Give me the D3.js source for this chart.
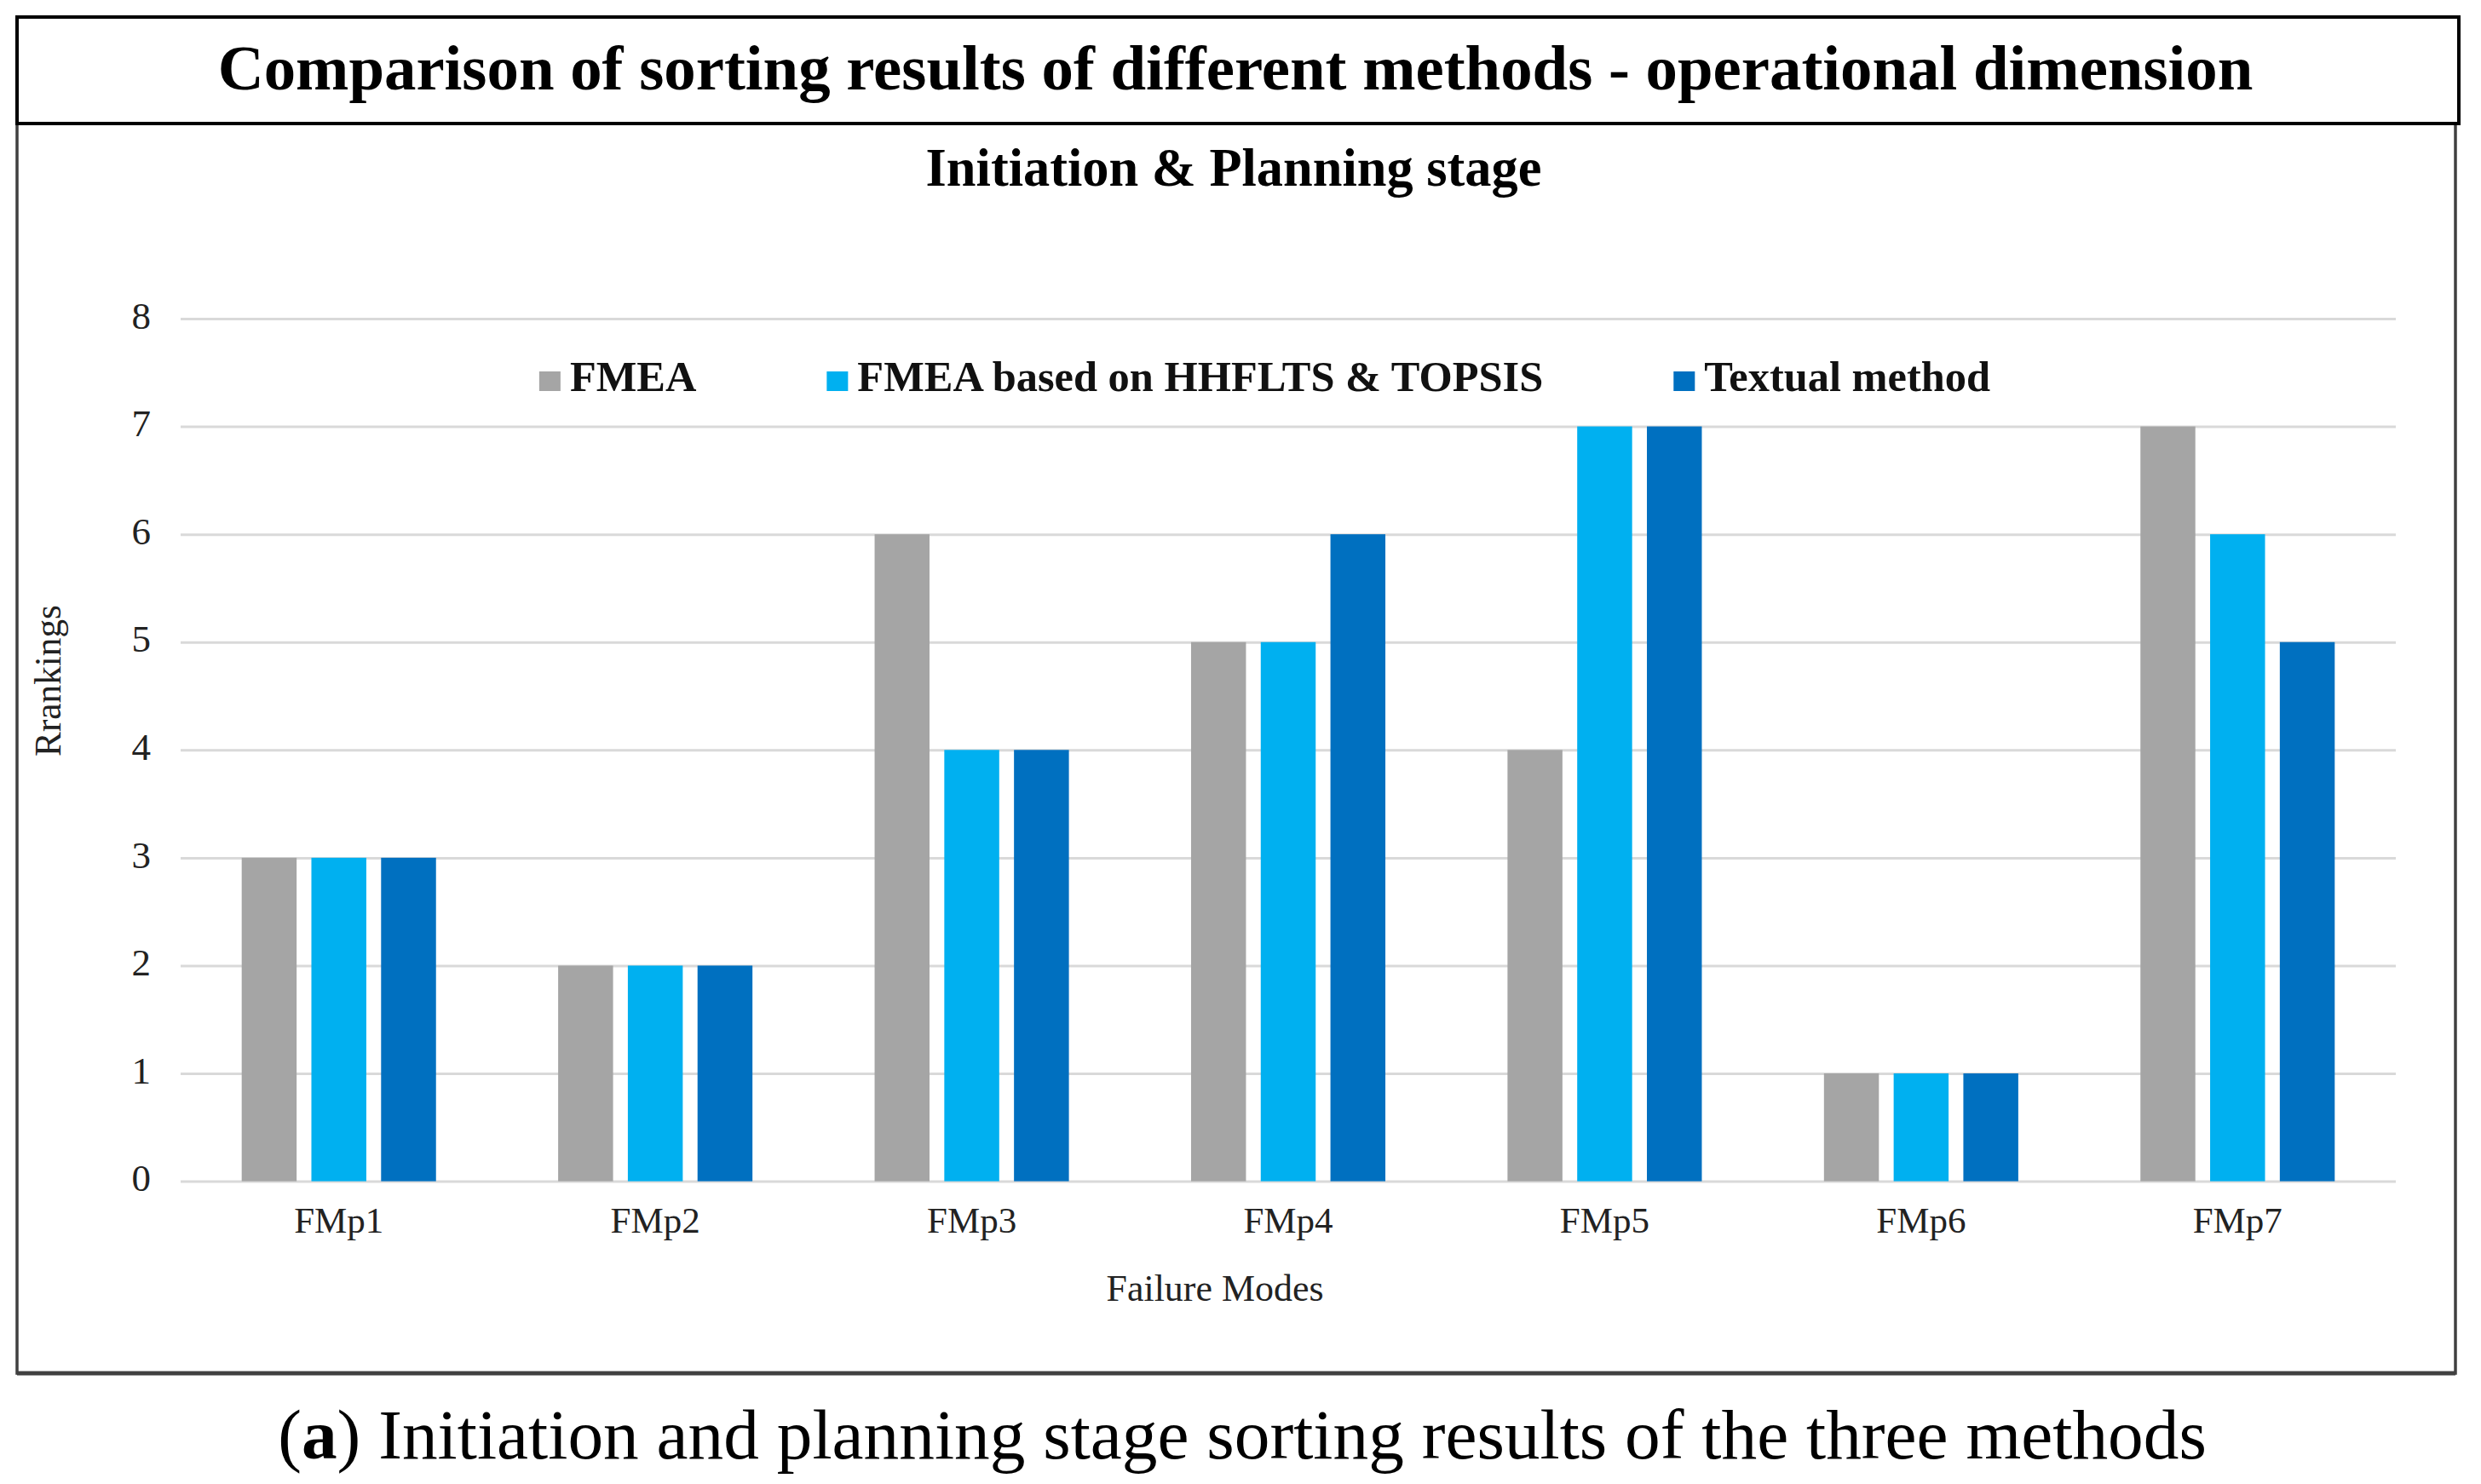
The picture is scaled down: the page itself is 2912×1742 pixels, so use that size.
<!DOCTYPE html>
<html>
<head>
<meta charset="utf-8">
<script src="https://cdn.jsdelivr.net/npm/d3@7"></script>
<style>
  html, body { margin: 0; padding: 0; background: #fff; }
  svg { display: block; }
</style>
</head>
<body>
<svg id="chart" width="2912" height="1742"></svg>
<script>
// ---- data ----
const categories = ["FMp1", "FMp2", "FMp3", "FMp4", "FMp5", "FMp6", "FMp7"];
const seriesNames = ["FMEA", "FMEA based on HHFLTS & TOPSIS", "Textual method"];
const fmeaRank = [3, 2, 6, 5, 4, 1, 7];
const hhfltsTopsisRank = [3, 2, 4, 5, 7, 1, 6];
const textualRank = [3, 2, 4, 6, 7, 1, 5];
const yTickValues = [0, 1, 2, 3, 4, 5, 6, 7, 8];
const seriesColors = ["#A5A5A5", "#00B0F0", "#0070C0"];
const titleText = "Comparison of sorting results of different methods - operational dimension";
const subtitleText = "Initiation & Planning stage";
const xTitleText = "Failure Modes";
const yTitleText = "Rrankings";

const seriesValues = [fmeaRank, hhfltsTopsisRank, textualRank];
const rows = categories.map((c, i) => ({
  cat: c,
  vals: seriesNames.map((s, j) => ({ key: s, idx: j, value: seriesValues[j][i] }))
}));

const svg = d3.select("#chart");
const FONT = "'Liberation Serif', 'Times New Roman', serif";

function fitWidth(sel, target) {
  const node = sel.node();
  const fs = parseFloat(sel.attr("font-size"));
  const w = node.getComputedTextLength();
  if (w > 0) sel.attr("font-size", fs * target / w);
  return sel;
}

// ---- frames ----
svg.append("rect").attr("x", 20).attr("y", 145).attr("width", 2862).attr("height", 1467)
  .attr("fill", "none").attr("stroke", "#404040").attr("stroke-width", 3.5);
svg.append("line").attr("x1", 20).attr("x2", 2882).attr("y1", 1612).attr("y2", 1612)
  .attr("stroke", "#404040").attr("stroke-width", 5);
svg.append("rect").attr("x", 20).attr("y", 20).attr("width", 2866).attr("height", 125)
  .attr("fill", "#fff").attr("stroke", "#000").attr("stroke-width", 4);

// ---- titles ----
const title = svg.append("text").attr("x", 1450).attr("y", 105)
  .attr("text-anchor", "middle").attr("font-family", FONT).attr("font-weight", "bold")
  .attr("font-size", 76).attr("fill", "#000").text(titleText);
fitWidth(title, 2389);

const subtitle = svg.append("text").attr("x", 1448).attr("y", 218)
  .attr("text-anchor", "middle").attr("font-family", FONT).attr("font-weight", "bold")
  .attr("font-size", 62).attr("fill", "#000").text(subtitleText);
fitWidth(subtitle, 723);

// ---- scales ----
const x0 = d3.scaleBand().domain(categories).range([212, 2812])
  .paddingInner(0.386).paddingOuter(0.193);
const x1 = d3.scaleBand().domain(seriesNames).range([0, x0.bandwidth()]).paddingInner(0.212);
const y = d3.scaleLinear().domain([0, 8]).range([1386.6, 374]);

// ---- gridlines + y axis ----
const yAxis = svg.append("g").attr("transform", "translate(212,0)")
  .call(d3.axisLeft(y).tickValues(yTickValues).tickFormat(d3.format("d"))
    .tickSize(-2600).tickPadding(35));
yAxis.select(".domain").remove();
yAxis.selectAll(".tick line").attr("stroke", "#d9d9d9").attr("stroke-width", 3);
yAxis.selectAll(".tick text").attr("font-family", FONT).attr("font-size", 45)
  .attr("fill", "#222").attr("dy", "0.25em");

// ---- bars ----
const groups = svg.append("g").selectAll("g").data(rows).join("g")
  .attr("transform", d => `translate(${x0(d.cat)},0)`);
groups.selectAll("rect").data(d => d.vals).join("rect")
  .attr("x", d => x1(d.key))
  .attr("y", d => y(d.value))
  .attr("width", x1.bandwidth())
  .attr("height", d => y(0) - y(d.value))
  .attr("fill", d => seriesColors[d.idx]);

// ---- x axis ----
const xAxis = svg.append("g").attr("transform", `translate(0,${y(0)})`)
  .call(d3.axisBottom(x0).tickSize(0).tickPadding(0));
xAxis.select(".domain").remove();
xAxis.selectAll(".tick text").attr("font-family", FONT).attr("font-size", 43)
  .attr("fill", "#222").attr("y", 60).attr("dy", 0);

// ---- axis titles ----
const xt = svg.append("text").attr("x", 1426).attr("y", 1527)
  .attr("text-anchor", "middle").attr("font-family", FONT).attr("font-size", 44)
  .attr("fill", "#222").text(xTitleText);
fitWidth(xt, 255);

const yt = svg.append("text").attr("transform", "translate(71,799) rotate(-90)")
  .attr("text-anchor", "middle").attr("font-family", FONT).attr("font-size", 43)
  .attr("fill", "#222").text(yTitleText);
fitWidth(yt, 178);

// ---- legend ----
const legend = svg.append("g");
const legItems = legend.selectAll("g").data(seriesNames).join("g");
legItems.append("rect").attr("width", 25).attr("height", 23).attr("y", -23)
  .attr("fill", (d, i) => seriesColors[i]);
legItems.append("text").attr("x", 36).attr("y", 0)
  .attr("font-family", FONT).attr("font-weight", "bold").attr("font-size", 47)
  .attr("fill", "#111").text(d => d);
// size legend font so that the longest label matches the reference width
const legTextNodes = legend.selectAll("text").nodes();
const baseW = legTextNodes[1].getComputedTextLength();
if (baseW > 0) legend.selectAll("text").attr("font-size", 47 * 805 / baseW);
let cursor = 0;
legItems.each(function () {
  const g = d3.select(this);
  g.attr("transform", `translate(${cursor},0)`);
  cursor += 36 + g.select("text").node().getComputedTextLength() + 153;
});
const legWidth = cursor - 153;
legend.attr("transform", `translate(${1484.5 - legWidth / 2},459)`);

// ---- caption ----
const cap = svg.append("text").attr("x", 1458).attr("y", 1712)
  .attr("text-anchor", "middle").attr("font-family", FONT).attr("font-size", 80)
  .attr("fill", "#000");
cap.append("tspan").text("(");
cap.append("tspan").attr("font-weight", "bold").text("a");
cap.append("tspan").text(") Initiation and planning stage sorting results of the three methods");
fitWidth(cap, 2264);
</script>
</body>
</html>
